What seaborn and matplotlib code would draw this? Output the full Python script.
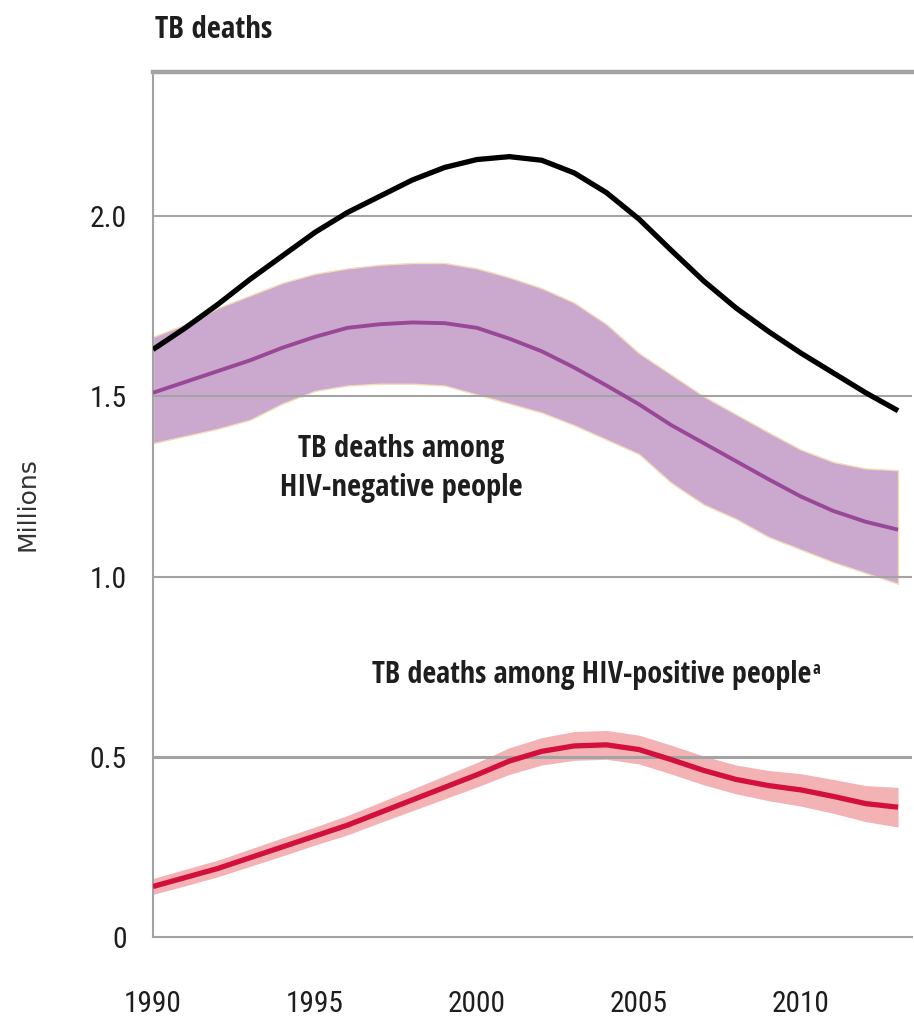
import os
import numpy as np
import pandas as pd
import matplotlib
matplotlib.use("Agg")
import matplotlib.pyplot as plt
from matplotlib import font_manager
from matplotlib.font_manager import FontProperties
import seaborn as sns

# Global TB mortality estimates, millions of deaths per year
years = list(range(1990, 2014))

total_deaths = [1.63, 1.69, 1.755, 1.825, 1.89, 1.955, 2.01, 2.055, 2.10, 2.135,
                2.157, 2.165, 2.155, 2.12, 2.065, 1.992, 1.905, 1.82, 1.745, 1.68,
                1.62, 1.565, 1.51, 1.46]

hivneg_best = [1.51, 1.54, 1.57, 1.60, 1.635, 1.665, 1.69, 1.70, 1.705, 1.703,
               1.69, 1.66, 1.625, 1.58, 1.53, 1.478, 1.42, 1.37, 1.32, 1.27,
               1.222, 1.182, 1.152, 1.13]
hivneg_high = [1.665, 1.70, 1.745, 1.78, 1.815, 1.84, 1.855, 1.865, 1.87, 1.87,
               1.855, 1.83, 1.80, 1.76, 1.70, 1.62, 1.56, 1.50, 1.45, 1.40,
               1.352, 1.318, 1.30, 1.295]
hivneg_low = [1.37, 1.39, 1.41, 1.435, 1.48, 1.515, 1.53, 1.535, 1.535, 1.53,
              1.505, 1.48, 1.455, 1.42, 1.38, 1.34, 1.26, 1.20, 1.16, 1.11,
              1.075, 1.04, 1.01, 0.98]

hivpos_best = [0.14, 0.165, 0.19, 0.22, 0.25, 0.28, 0.31, 0.345, 0.38, 0.415,
               0.45, 0.488, 0.515, 0.53, 0.533, 0.52, 0.492, 0.462, 0.437, 0.42,
               0.408, 0.39, 0.37, 0.36]
hivpos_high = [0.162, 0.188, 0.213, 0.244, 0.275, 0.305, 0.337, 0.373, 0.41, 0.447,
               0.484, 0.525, 0.553, 0.57, 0.573, 0.56, 0.532, 0.502, 0.477, 0.462,
               0.453, 0.437, 0.42, 0.415]
hivpos_low = [0.118, 0.142, 0.167, 0.196, 0.225, 0.255, 0.283, 0.317, 0.35, 0.383,
              0.416, 0.451, 0.477, 0.49, 0.493, 0.48, 0.452, 0.422, 0.397, 0.378,
              0.363, 0.343, 0.32, 0.305]

x_ticks = [1990, 1995, 2000, 2005, 2010]
y_ticks = [0, 0.5, 1.0, 1.5, 2.0]
y_tick_labels = ["0", "0.5", "1.0", "1.5", "2.0"]

df = pd.DataFrame({
    "year": years * 3,
    "deaths": total_deaths + hivneg_best + hivpos_best,
    "group": (["All TB deaths"] * len(years)
              + ["HIV-negative"] * len(years)
              + ["HIV-positive"] * len(years)),
})

sns.set_theme(style="white")
plt.rcParams["font.family"] = ["DejaVu Sans"]


def find_font(bold):
    """Look for an installed condensed/narrow sans face."""
    keys = ["notosans-condensed", "opensans_condensed", "opensans-cond",
            "liberationsansnarrow", "robotocondensed", "roboto_condensed",
            "dejavusanscondensed"]
    skip = ("italic", "oblique", "light", "thin", "medium", "black",
            "semi", "extra")
    files = [f.fname for f in font_manager.fontManager.ttflist]
    for key in keys:
        for path in files:
            base = os.path.basename(path).lower()
            if key not in base or any(s in base for s in skip):
                continue
            is_bold = base.endswith("bold.ttf") or base.endswith("bold.otf")
            if is_bold == bold:
                return path
    return None


reg_path = find_font(False)
bold_path = find_font(True)


def fprop(bold, size):
    path = bold_path if bold else reg_path
    if path:
        return FontProperties(fname=path, size=size)
    return FontProperties(family="Roboto", weight="bold" if bold else "normal",
                          size=size)


GRID = "#a3a3a3"
INK = "#1e1e1e"
PURPLE_FILL = "#cba9cf"
PURPLE_LINE = "#984896"
RED_FILL = "#f3b3b5"
RED_LINE = "#d3103d"

fig = plt.figure(figsize=(9.14, 10.25), dpi=100)
ax = fig.add_axes([0.1674, 0.0859, 0.8304, 0.8439])

# uncertainty bands
ax.fill_between(years, hivneg_low, hivneg_high, color=PURPLE_FILL,
                edgecolor="#f4dcb8", linewidth=1.0, zorder=1)
ax.fill_between(years, hivpos_low, hivpos_high, color=RED_FILL,
                linewidth=0, zorder=1)

sns.lineplot(data=df, x="year", y="deaths", hue="group",
             palette={"All TB deaths": "black",
                      "HIV-negative": PURPLE_LINE,
                      "HIV-positive": RED_LINE},
             legend=False, ax=ax, zorder=3)
for line, lw in zip(ax.get_lines(), [3.8, 2.8, 3.8]):
    line.set_linewidth(lw)
    line.set_solid_capstyle("butt")
    line.set_solid_joinstyle("round")

ax.set_xlim(1990, 2013.43)
ax.set_ylim(0, 2.4)
ax.set_axisbelow(False)

ax.set_xticks(x_ticks)
ax.set_xticklabels([str(t) for t in x_ticks])
ax.set_yticks(y_ticks)
ax.set_yticklabels(y_tick_labels)
ax.tick_params(axis="x", length=16, width=1.6, color=GRID, direction="out",
               pad=22, labelcolor=INK)
ax.tick_params(axis="y", length=0, pad=19, labelcolor=INK)

ax.yaxis.grid(True, color=GRID, linewidth=1.5)
ax.xaxis.grid(False)
for gl, val in zip(ax.get_ygridlines(), y_ticks):
    if val == 0:
        gl.set_visible(False)
    elif val == 0.5:
        gl.set_linewidth(2.2)

for side in ["left", "bottom"]:
    ax.spines[side].set_color(GRID)
    ax.spines[side].set_linewidth(1.5)
ax.spines["top"].set_color(GRID)
ax.spines["top"].set_linewidth(3.2)
ax.spines["right"].set_visible(False)

ax.set_xlabel("")
ax.set_ylabel("Millions", family="DejaVu Sans", fontsize=18, color="#333333",
              labelpad=36)

title = fig.text(0.17, 0.971, "TB deaths", fontproperties=fprop(True, 22),
                 color=INK, ha="left", va="center")
neg_label = ax.text(1997.65, 1.30, "TB deaths among\nHIV-negative people",
                    fontproperties=fprop(True, 22), color=INK,
                    ha="center", va="center", linespacing=1.4)
pos_label = ax.text(1996.75, 0.728, "TB deaths among HIV-positive people",
                    fontproperties=fprop(True, 22), color=INK,
                    ha="left", va="center")

# size the condensed texts so they occupy the intended pixel widths
renderer = fig.canvas.get_renderer()


def fit_width(texts, target_px):
    w = texts[0].get_window_extent(renderer).width
    for t in texts:
        t.set_fontsize(t.get_fontsize() * target_px / w)


for lbl in ax.get_xticklabels() + ax.get_yticklabels():
    lbl.set_fontproperties(fprop(False, 21))
fit_width([ax.get_xticklabels()[0]], 58)
xs = ax.get_xticklabels()[0].get_fontsize()
for lbl in ax.get_xticklabels():
    lbl.set_fontsize(xs)
fit_width([ax.get_yticklabels()[-1]], 37)
ys = ax.get_yticklabels()[-1].get_fontsize()
for lbl in ax.get_yticklabels():
    lbl.set_fontsize(ys)

fit_width([title], 117)
fit_width([neg_label], 242)
fit_width([pos_label], 440)

ax.annotate("a", xy=(1.0, 0.97), xycoords=pos_label, xytext=(1, 0),
            textcoords="offset points", ha="left", va="top",
            fontproperties=fprop(True, pos_label.get_fontsize() * 0.55),
            color=INK)

fig.savefig("out.png", dpi=100)
